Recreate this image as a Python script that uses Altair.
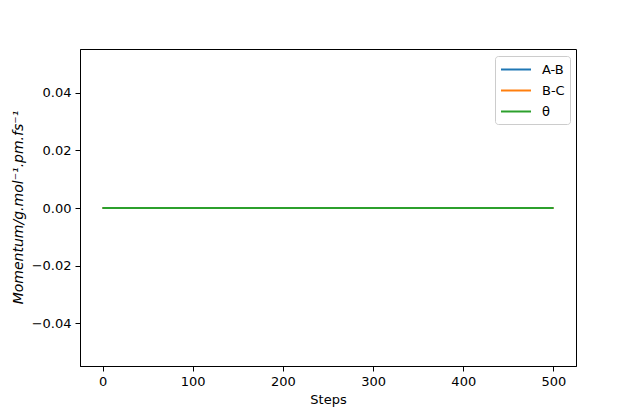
import altair as alt
import pandas as pd

steps = [0, 100, 200, 300, 400, 500]
ab = [0.0, 0.0, 0.0, 0.0, 0.0, 0.0]
bc = [0.0, 0.0, 0.0, 0.0, 0.0, 0.0]
theta = [0.0, 0.0, 0.0, 0.0, 0.0, 0.0]
series = ["A-B", "B-C", "θ"]
colors = ["#1f77b4", "#ff7f0e", "#2ca02c"]

rows = []
for name, vals in zip(series, [ab, bc, theta]):
    for s, v in zip(steps, vals):
        rows.append({"Steps": s, "Value": v, "Series": name})
df = pd.DataFrame(rows)

font = "DejaVu Sans"

enc = dict(
    x=alt.X("Steps:Q", scale=alt.Scale(domain=[-25, 525], nice=False, zero=False),
            axis=alt.Axis(values=[0, 100, 200, 300, 400, 500], title="Steps", format="d")),
    y=alt.Y("Value:Q", scale=alt.Scale(domain=[-0.0548, 0.0552], nice=False),
            axis=alt.Axis(values=[-0.04, -0.02, 0.0, 0.02, 0.04], format=".2f",
                          title="Momentum/g.mol⁻¹.pm.fs⁻¹", titleFontStyle="italic",
                          titleFontSize=14, titleX=-62, titleY=158,
                          titleBaseline="middle", titleAlign="center", titleAngle=270)),
    color=alt.Color("Series:N", scale=alt.Scale(domain=series, range=colors),
                    legend=alt.Legend(title=None, orient="none", legendX=415, legendY=7,
                                      symbolType="M-1,0H3", symbolSize=225,
                                      symbolStrokeWidth=2, symbolOpacity=1,
                                      labelFontSize=13, labelFont=font, strokeColor="#cccccc",
                                      cornerRadius=3, padding=5, rowPadding=5, labelOffset=25,
                                      fillColor="white")),
)

layers = [
    alt.Chart(df).mark_line(strokeWidth=2, opacity=1)
    .encode(**enc).transform_filter(alt.datum.Series == s)
    for s in series
]

chart = alt.layer(*layers).properties(
    width=496, height=317,
    autosize=alt.AutoSizeParams(type="none"),
    padding={"left": 72, "top": 41, "right": 40, "bottom": 44},
).configure_view(
    stroke="black", strokeWidth=1
).configure_axis(
    grid=False, domainColor="black", tickColor="black", tickSize=5, tickWidth=1,
    labelFont=font, labelFontSize=13, labelColor="black", labelPadding=4,
    titleFont=font, titleFontSize=13, titleColor="black", titleFontWeight="normal",
    domain=True,
).configure_axisX(titlePadding=5)

chart.save("out.html", embed_options={"renderer": "svg", "actions": False})
